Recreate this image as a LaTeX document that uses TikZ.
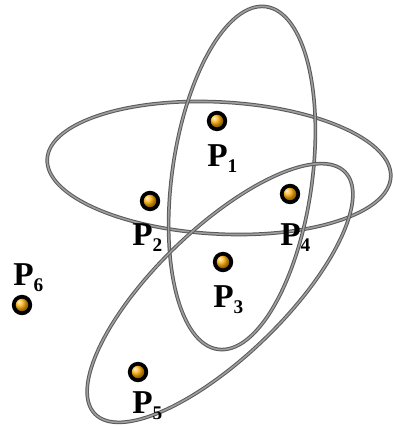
\documentclass[tikz,border=0pt]{standalone}
\usepackage{amsmath}
\usepackage{fontspec}
\setmainfont{Liberation Serif}
\usepackage{tikz}

\newcommand{\plab}[1]{P\raisebox{-4.5pt}{\fontsize{14.5}{14.5}\selectfont #1}}

\tikzset{
  orbit/.style={draw=black!65, double=black!38, double distance=1.2pt, line width=0.75pt},
  plabel/.style={anchor=base west, inner sep=0pt, font=\fontsize{25}{25}\selectfont\bfseries}
}

\begin{document}
\begin{tikzpicture}[x=0.75pt,y=-0.75pt]
    \useasboundingbox (0,0) rectangle (392,427);

    % orbits
    \coordinate (o1) at (219,168);
    \coordinate (o2) at (242,178);
    \coordinate (o3) at (220,293);

    \draw[orbit, rotate around={-3:(o1)}] (o1) ellipse (172 and 66);
    \draw[orbit, rotate around={-8:(o2)}] (o2) ellipse (70 and 173);
    \draw[orbit, rotate around={44:(o3)}] (o3) ellipse (174 and 64);

    % points
    \coordinate (p1) at (217,121);
    \coordinate (p2) at (150,201);
    \coordinate (p3) at (223,262);
    \coordinate (p4) at (290,194);
    \coordinate (p5) at (138,372);
    \coordinate (p6) at (22,305);

    \foreach \p in {p1,p2,p3,p4,p5,p6}{
        \shadedraw[ball color=orange!65!yellow, line width=2.8pt] (\p) circle (8.3);
    }

    \node[plabel] (l1) at (207,167) {\plab{1}};
    \node[plabel] (l2) at (132,245) {\plab{2}};
    \node[plabel] (l3) at (213,307) {\plab{3}};
    \node[plabel] (l4) at (280,245) {\plab{4}};
    \node[plabel] (l5) at (132,413) {\plab{5}};
    \node[plabel] (l6) at (13,285) {\plab{6}};
\end{tikzpicture}
\end{document}
